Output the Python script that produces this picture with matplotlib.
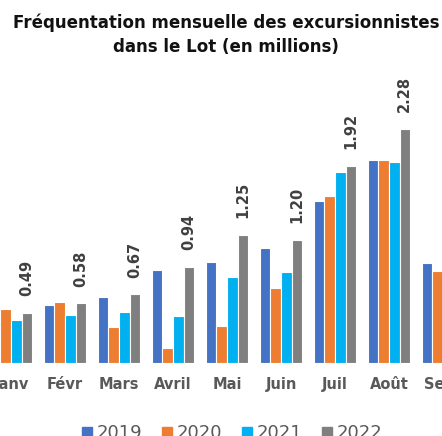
import matplotlib.pyplot as plt
from matplotlib.patches import Patch
import numpy as np

plt.rcParams['font.family'] = ['DejaVu Sans']

months = ['Janv', 'Févr', 'Mars', 'Avril', 'Mai', 'Juin', 'Juil', 'Août', 'Sept']
years = ['2019', '2020', '2021', '2022']
v2019 = [0.50, 0.565, 0.64, 0.91, 0.98, 1.12, 1.58, 1.98, 0.975]
v2020 = [0.53, 0.59, 0.35, 0.15, 0.36, 0.73, 1.63, 1.98, 0.90]
v2021 = [0.42, 0.465, 0.50, 0.46, 0.835, 0.89, 1.865, 1.96, 1.00]
v2022 = [0.49, 0.58, 0.67, 0.94, 1.25, 1.20, 1.92, 2.28, 1.10]
colors = ['#4472C4', '#ED7D31', '#00B0F0', '#7F7F7F']

fig = plt.figure(figsize=(4.42, 4.36), dpi=100)
# axes run past the figure edges, as in the cropped reference
ax = fig.add_axes([-0.0484, 0.1674, 1.124, 0.659])

x = np.arange(len(months))
w = 0.195
series = [v2019, v2020, v2021, v2022]
for i, (vals, c) in enumerate(zip(series, colors)):
    ax.bar(x + (i - 1.5) * w, vals, w, color=c, edgecolor='white', linewidth=0.8)

# labels on the 2022 bars
for xi, v in zip(x[:8], v2022[:8]):
    ax.annotate(f"{v:.2f}", (xi + 1.5 * w, v), xytext=(0, 12), textcoords='offset points',
                rotation=90, ha='center', va='bottom', fontsize=10.5, fontweight='bold',
                color='#404040')

ax.set_xlim(-0.6, 8.6)
ax.set_ylim(0, 2.8)
ax.set_xticks(x)
ax.set_xticklabels(months, fontsize=10.5, fontweight='bold', color='#595959')
ax.tick_params(axis='x', length=0, pad=10)
ax.set_yticks([])
for s in ax.spines.values():
    s.set_visible(False)

fig.text(0.512, 0.92, "Fréquentation mensuelle des excursionnistes\ndans le Lot (en millions)",
         ha='center', va='center', fontsize=12, fontweight='bold', color='#111111',
         linespacing=1.45)

handles = [Patch(color=c) for c in colors]
fig.legend(handles, years, loc='center', bbox_to_anchor=(0.525, 0.006), ncol=4, frameon=False,
           fontsize=13, handlelength=0.55, handleheight=0.55, handletextpad=0.25,
           columnspacing=1.1, labelcolor='#595959')

fig.savefig('out.png', dpi=100)
